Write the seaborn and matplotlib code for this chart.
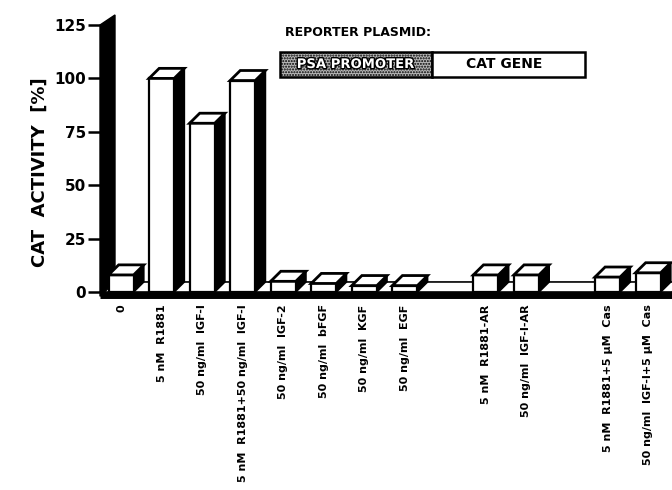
import numpy as np
import matplotlib
matplotlib.use("Agg")
import matplotlib.pyplot as plt
import matplotlib.patheffects as pe
from matplotlib.patches import Polygon, Rectangle
import seaborn as sns

# data
treatments = ["0", "5 nM  R1881", "50 ng/ml  IGF-I", "5 nM  R1881+50 ng/ml  IGF-I",
              "50 ng/ml  IGF-2", "50 ng/ml  bFGF", "50 ng/ml  KGF", "50 ng/ml  EGF",
              "5 nM  R1881-AR", "50 ng/ml  IGF-I-AR",
              "5 nM  R1881+5 \u00b5M  Cas", "50 ng/ml  IGF-I+5 \u00b5M  Cas"]
cat_activity = [8, 100, 79, 99, 5, 4, 3, 3, 8, 8, 7, 9]
group = [0, 0, 0, 0, 0, 0, 0, 0, 1, 1, 2, 2]

# one empty slot between groups
pos = np.arange(len(treatments)) + np.array(group)

sns.set_style("white")
plt.rcParams['font.family'] = ['DejaVu Sans']
plt.rcParams['font.weight'] = 'bold'
for k in ['text.color', 'xtick.color', 'ytick.color', 'axes.labelcolor']:
    plt.rcParams[k] = 'black'

fig = plt.figure(figsize=(6.72, 4.9), dpi=100)
ax = fig.add_axes([100 / 672, 198 / 490, 572 / 672, 267 / 490])

sns.barplot(x=pos, y=cat_activity, native_scale=True, width=0.62,
            color="white", edgecolor="black", linewidth=1.6, ax=ax, zorder=5)

ax.set_xlim(-0.52, 13.59)
ax.set_ylim(0, 125)

# 3D depth offsets (data units)
dx, dy = 0.25, 4.7
x0, x1 = ax.get_xlim()

# floor
ax.add_patch(Polygon([(x0, 0), (x1, 0), (x1 + dx, dy), (x0 + dx, dy)], closed=True,
                     facecolor="white", edgecolor="black", lw=1.2, zorder=1, clip_on=False))
ax.plot([x0, x1], [-1.2, -1.2], color="black", lw=5, zorder=2, clip_on=False,
        solid_capstyle="butt")

# back wall on the y axis
ax.add_patch(Polygon([(x0, -2), (x0, 125), (x0 + 0.37, 125 + dy), (x0 + 0.37, dy)],
                     closed=True, facecolor="black", edgecolor="black", zorder=3,
                     clip_on=False))

# sides and tops of bars from the drawn patches
for bar in list(ax.patches):
    if not isinstance(bar, Rectangle):
        continue
    bx, bw, bh = bar.get_x(), bar.get_width(), bar.get_height()
    if bw > 2:
        continue
    side = Polygon([(bx + bw, 0), (bx + bw + dx, dy), (bx + bw + dx, bh + dy), (bx + bw, bh)],
                   closed=True, facecolor="black", edgecolor="black", lw=1.2, zorder=4)
    top = Polygon([(bx, bh), (bx + bw, bh), (bx + bw + dx, bh + dy), (bx + dx, bh + dy)],
                  closed=True, facecolor="white", edgecolor="black", lw=2, zorder=6)
    ax.add_patch(side)
    ax.add_patch(top)

sns.despine(ax=ax, left=True, bottom=True)
ax.set_yticks([0, 25, 50, 75, 100, 125])
ax.set_yticklabels(["0", "25", "50", "75", "100", "125"], fontsize=11, fontweight="bold")
ax.tick_params(axis="y", length=9, width=1.8, pad=1, left=True)
ax.set_xticks(pos)
ax.set_xticklabels(treatments, rotation=90, fontsize=8, fontweight="bold", va="top")
ax.tick_params(axis="x", length=0, pad=9)

fig.text(40 / 672, 1 - 172 / 490, "CAT  ACTIVITY  [%]", rotation=90, ha="center",
         va="center", fontsize=13, fontweight="bold")

# reporter plasmid inset
fig.text(285 / 672, 1 - 32 / 490, "REPORTER PLASMID:", ha="left", va="center",
         fontsize=9, fontweight="bold")
bh_fig = 25 / 490
by_fig = 1 - 77 / 490
fig.patches.append(Rectangle((280 / 672, by_fig), 152 / 672, bh_fig, transform=fig.transFigure,
                             facecolor="#b8b8b8", edgecolor="black", hatch="......", lw=1.8))
fig.patches.append(Rectangle((432 / 672, by_fig), 153 / 672, bh_fig, transform=fig.transFigure,
                             facecolor="white", edgecolor="black", lw=1.8))
fig.text(356 / 672, by_fig + bh_fig / 2, "PSA PROMOTER", ha="center", va="center",
         fontsize=9.5, fontweight="bold", color="white",
         path_effects=[pe.withStroke(linewidth=2, foreground="black")])
fig.text(504 / 672, by_fig + bh_fig / 2, "CAT GENE", ha="center", va="center",
         fontsize=10, fontweight="bold")

fig.savefig("out.png", dpi=100)
